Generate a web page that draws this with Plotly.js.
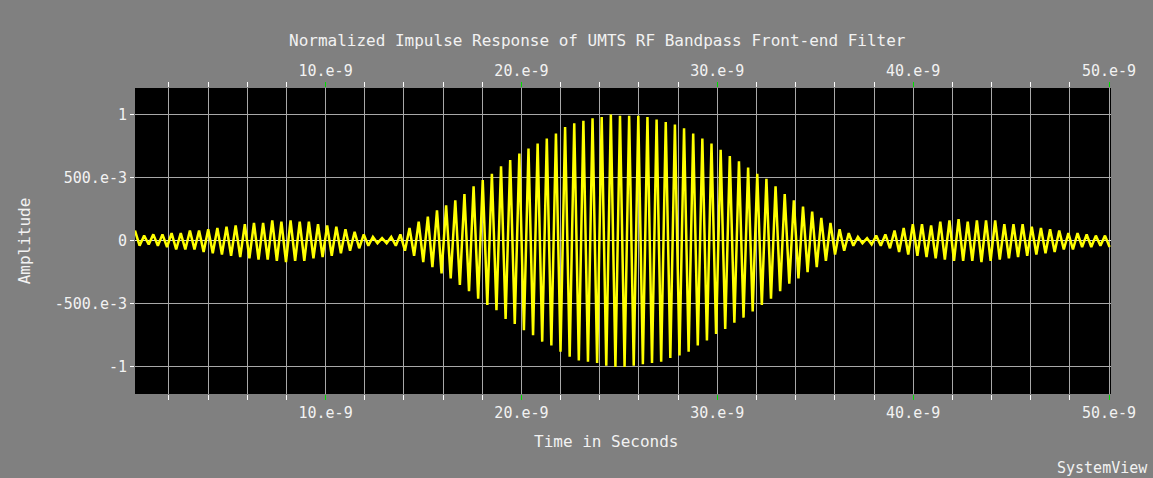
<!DOCTYPE html>
<html>
<head>
<meta charset="utf-8">
<script src="https://cdn.plot.ly/plotly-3.0.1.min.js"></script>
<style>
  html, body { margin: 0; padding: 0; background: #808080; }
  #chart { width: 1153px; height: 478px; }
</style>
</head>
<body>
<div id="chart"></div>
<script>
// Time axis: first sample time and spacing between successive extrema (seconds)
const timeStart = 0.27e-9;
const timeStep = 0.2336e-9;

// Amplitude of each successive extremum of the impulse response
const amplitude = [
  0.08,-0.04,0.04,-0.03,0.05,-0.04,0.05,-0.05,0.06,-0.07,
  0.06,-0.07,0.08,-0.07,0.08,-0.09,0.09,-0.10,0.10,-0.11,
  0.11,-0.12,0.12,-0.13,0.13,-0.14,0.14,-0.15,0.14,-0.15,
  0.16,-0.16,0.15,-0.17,0.16,-0.16,0.15,-0.16,0.15,-0.14,
  0.13,-0.13,0.12,-0.12,0.11,-0.10,0.09,-0.08,0.07,-0.06,
  0.05,-0.04,0.03,-0.02,0.02,-0.02,0.03,-0.04,0.05,-0.08,
  0.10,-0.12,0.15,-0.17,0.19,-0.21,0.24,-0.26,0.28,-0.30,
  0.32,-0.35,0.37,-0.40,0.43,-0.46,0.48,-0.51,0.53,-0.55,
  0.59,-0.62,0.64,-0.66,0.69,-0.71,0.73,-0.75,0.77,-0.80,
  0.81,-0.83,0.85,-0.88,0.90,-0.92,0.93,-0.95,0.95,-0.96,
  0.97,-0.97,0.98,-0.99,1.00,-1.00,0.99,-1.00,0.99,-0.99,
  0.99,-0.98,0.98,-0.97,0.96,-0.96,0.94,-0.93,0.92,-0.91,
  0.89,-0.88,0.85,-0.83,0.81,-0.79,0.77,-0.74,0.72,-0.70,
  0.67,-0.65,0.63,-0.61,0.58,-0.56,0.53,-0.51,0.49,-0.46,
  0.43,-0.40,0.37,-0.34,0.32,-0.30,0.27,-0.25,0.23,-0.21,
  0.18,-0.16,0.14,-0.11,0.09,-0.08,0.06,-0.04,0.03,-0.02,
  0.02,-0.03,0.04,-0.04,0.05,-0.06,0.08,-0.09,0.10,-0.11,
  0.13,-0.12,0.13,-0.13,0.12,-0.14,0.15,-0.15,0.16,-0.16,
  0.17,-0.16,0.15,-0.16,0.16,-0.17,0.16,-0.16,0.16,-0.15,
  0.13,-0.14,0.13,-0.13,0.13,-0.12,0.11,-0.11,0.10,-0.10,
  0.09,-0.09,0.08,-0.07,0.06,-0.07,0.06,-0.05,0.05,-0.05,
  0.04,-0.04,0.04,-0.05
];

// Tick labels
const xTickVals = [10e-9, 20e-9, 30e-9, 40e-9, 50e-9];
const xTickText = ['10.e-9', '20.e-9', '30.e-9', '40.e-9', '50.e-9'];
const yTickVals = [-1, -0.5, 0, 0.5, 1];
const yTickText = ['-1', '-500.e-3', '0', '500.e-3', '1'];

const FONT = '"DejaVu Sans Mono", "Liberation Mono", monospace';
const TXT = '#f2f2f2';
const GRID = '#a8a8a8';
const xRange = [0.27e-9, 50.1e-9];

const trace = {
  type: 'scatter',
  mode: 'lines',
  x0: timeStart,
  dx: timeStep,
  y: amplitude,
  line: { color: '#ffff00', width: 2.5 },
  hoverinfo: 'skip'
};

const xCommon = {
  range: xRange,
  tickmode: 'array',
  tickvals: xTickVals,
  ticktext: xTickText,
  ticks: 'outside',
  ticklen: 5,
  tickwidth: 1,
  tickcolor: '#00e000',
  tickfont: { family: FONT, size: 15, color: TXT },
  zeroline: false,
  showline: false,
  fixedrange: true
};

const layout = {
  width: 1153,
  height: 478,
  paper_bgcolor: '#808080',
  plot_bgcolor: '#000000',
  margin: { l: 135, r: 42, t: 88, b: 84 },
  showlegend: false,
  title: {
    text: 'Normalized Impulse Response of UMTS RF Bandpass Front-end Filter',
    font: { family: FONT, size: 16, color: TXT },
    x: 0.518, xanchor: 'center', xref: 'container',
    y: 0.915, yanchor: 'middle', yref: 'container'
  },
  xaxis: Object.assign({}, xCommon, {
    side: 'bottom',
    showgrid: true,
    gridcolor: GRID,
    gridwidth: 1,
    minor: {
      tickmode: 'linear', tick0: 0, dtick: 2e-9,
      ticks: 'outside', ticklen: 5, tickwidth: 1, tickcolor: '#ffffff',
      showgrid: true, gridcolor: GRID, gridwidth: 1
    }
  }),
  xaxis2: Object.assign({}, xCommon, {
    side: 'top',
    overlaying: 'x',
    anchor: 'y',
    showgrid: false,
    minor: {
      tickmode: 'linear', tick0: 0, dtick: 2e-9,
      ticks: 'outside', ticklen: 5, tickwidth: 1, tickcolor: '#ffffff',
      showgrid: false
    }
  }),
  yaxis: {
    range: [-1.215, 1.21],
    tickmode: 'array',
    tickvals: yTickVals,
    ticktext: yTickText,
    ticks: 'outside',
    ticklen: 4,
    tickcolor: '#ffffff',
    tickfont: { family: FONT, size: 15, color: TXT },
    showgrid: true,
    gridcolor: GRID,
    gridwidth: 1,
    zeroline: true,
    zerolinecolor: '#dcdcdc',
    zerolinewidth: 1,
    showline: false,
    fixedrange: true,
    title: { text: 'Amplitude', font: { family: FONT, size: 16, color: TXT }, standoff: 20 }
  },
  annotations: [{
    text: 'Time in Seconds',
    xref: 'paper', yref: 'paper',
    x: 0.4836, y: -0.1536,
    xanchor: 'center', yanchor: 'middle',
    showarrow: false,
    font: { family: FONT, size: 16, color: TXT }
  }, {
    text: 'SystemView',
    xref: 'paper', yref: 'paper',
    x: 1.0395, y: -0.243,
    xanchor: 'right', yanchor: 'middle',
    showarrow: false,
    font: { family: FONT, size: 15, color: TXT }
  }]
};

// invisible trace on the top axis so it renders with the same range
const topTrace = {
  type: 'scatter', mode: 'lines', xaxis: 'x2', yaxis: 'y',
  x: xRange, y: [0, 0], line: { color: 'rgba(0,0,0,0)', width: 0 },
  hoverinfo: 'skip', showlegend: false
};

Plotly.newPlot('chart', [trace, topTrace], layout, { displayModeBar: false, staticPlot: true });
</script>
</body>
</html>
